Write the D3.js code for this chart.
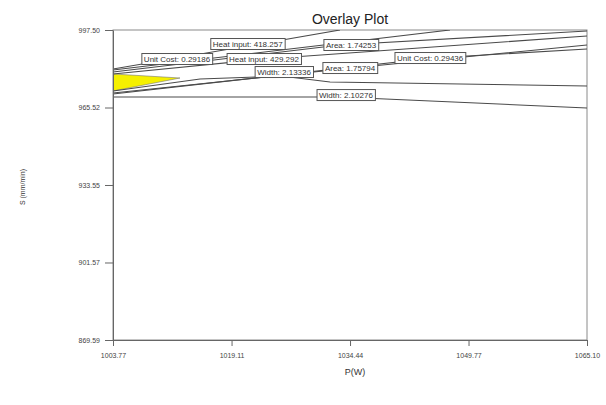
<!DOCTYPE html>
<html>
<head>
<meta charset="utf-8">
<script src="https://cdn.jsdelivr.net/npm/d3@7"></script>
<style>
  body { margin: 0; background: #fff; }
  svg { font-family: "Liberation Sans", Arial, sans-serif; }
</style>
</head>
<body>
<svg id="chart" width="606" height="405"></svg>
<script>
// Axis ticks
const xTicks = [1003.77, 1019.11, 1034.44, 1049.77, 1065.10];
const xTickLabels = ["1003.77", "1019.11", "1034.44", "1049.77", "1065.10"];
const yTicks = [869.59, 901.57, 933.55, 965.52, 997.50];
const yTickLabels = ["869.59", "901.57", "933.55", "965.52", "997.50"];

// Contour lines of each response limit (P, S pairs)
const heat418X = [1003.77, 1023.44, 1033.14];
const heat418Y = [981.41, 992.13, 997.50];
const heat429X = [1003.77, 1023.44, 1065.10];
const heat429Y = [979.35, 985.53, 995.02];
const area174X = [1003.77, 1033.14, 1065.10];
const area174Y = [980.17, 991.31, 997.09];
const area175X = [1003.77, 1034.69, 1065.10];
const area175Y = [971.50, 981.82, 991.31];
const cost29186X = [1003.77, 1047.37];
const cost29186Y = [980.99, 997.50];
const cost29436X = [1003.77, 1045.17, 1065.10];
const cost29436Y = [971.09, 985.95, 989.66];
const width2133X = [1003.77, 1015.03, 1025.51, 1031.85, 1065.10];
const width2133Y = [972.33, 977.28, 978.52, 976.04, 974.39];
const width2102X = [1003.77, 1033.14, 1065.10];
const width2102Y = [969.86, 969.86, 965.32];

// Feasible (sweet spot) region
const regionX = [1003.77, 1012.44, 1003.77];
const regionY = [979.35, 977.69, 972.33];

// Flag labels placed on the contours
const flagText = ["Heat input: 418.257", "Unit Cost: 0.29186", "Heat input: 429.292",
  "Area: 1.74253", "Unit Cost: 0.29436", "Area: 1.75794", "Width: 2.13336", "Width: 2.10276"];
const flagX = [1021.20, 1012.05, 1023.31, 1034.57, 1044.80, 1034.44, 1025.90, 1033.91];
const flagY = [991.72, 985.53, 985.53, 991.31, 985.94, 981.81, 980.16, 970.66];

const W = 606, H = 405;
const margin = { top: 30, right: 19, bottom: 65, left: 113 };
const svg = d3.select("#chart");
const x = d3.scaleLinear().domain([xTicks[0], xTicks[4]]).range([margin.left, W - margin.right]);
const y = d3.scaleLinear().domain([yTicks[0], yTicks[4]]).range([H - margin.bottom, margin.top]);

svg.append("defs").append("clipPath").attr("id", "plotClip")
  .append("rect")
  .attr("x", margin.left).attr("y", margin.top)
  .attr("width", W - margin.left - margin.right)
  .attr("height", H - margin.top - margin.bottom);

// Plot frame
svg.append("rect")
  .attr("x", margin.left).attr("y", margin.top)
  .attr("width", W - margin.left - margin.right)
  .attr("height", H - margin.top - margin.bottom)
  .attr("fill", "#fff").attr("stroke", "#8a8a8a").attr("stroke-width", 1);

const plot = svg.append("g").attr("clip-path", "url(#plotClip)");

const toPts = (xs, ys) => xs.map((v, i) => [x(v), y(ys[i])]);

plot.append("path")
  .attr("d", d3.line()(toPts(regionX, regionY)) + "Z")
  .attr("fill", "#f5f000").attr("stroke", "#777").attr("stroke-width", 0.6);

const contours = [
  [heat418X, heat418Y], [heat429X, heat429Y], [area174X, area174Y], [area175X, area175Y],
  [cost29186X, cost29186Y], [cost29436X, cost29436Y], [width2133X, width2133Y], [width2102X, width2102Y]
];
const line = d3.line();
contours.forEach(([xs, ys]) => {
  plot.append("path")
    .attr("d", line(toPts(xs, ys)))
    .attr("fill", "none").attr("stroke", "#4a4a4a").attr("stroke-width", 1.1);
});

// Flags
flagText.forEach((t, i) => {
  const g = svg.append("g").attr("transform", `translate(${x(flagX[i])},${y(flagY[i])})`);
  const txt = g.append("text")
    .attr("text-anchor", "middle").attr("dy", "0.35em")
    .attr("font-size", 8).attr("fill", "#333").text(t);
  const bb = txt.node().getBBox();
  g.insert("rect", "text")
    .attr("x", bb.x - 2).attr("y", -5.5)
    .attr("width", bb.width + 4).attr("height", 11)
    .attr("fill", "#fff").attr("stroke", "#555").attr("stroke-width", 1);
});

// Axes
const xAxis = d3.axisBottom(x).tickValues(xTicks)
  .tickFormat((d, i) => xTickLabels[i]).tickSize(6).tickSizeOuter(0);
const gx = svg.append("g").attr("transform", `translate(0,${H - margin.bottom})`).call(xAxis);
gx.select(".domain").attr("stroke", "#666");
gx.selectAll(".tick line").attr("stroke", "#666");
gx.selectAll("text").attr("font-size", 7).attr("fill", "#444").attr("dy", "1.3em")
  .style("font-family", "Liberation Sans, Arial, sans-serif");

const yAxis = d3.axisLeft(y).tickValues(yTicks)
  .tickFormat((d, i) => yTickLabels[i]).tickSize(8).tickSizeOuter(0);
const gy = svg.append("g").attr("transform", `translate(${margin.left},0)`).call(yAxis);
gy.select(".domain").attr("stroke", "#666");
gy.selectAll(".tick line").attr("stroke", "#666");
gy.selectAll("text").attr("font-size", 7).attr("fill", "#444").attr("x", -13)
  .style("font-family", "Liberation Sans, Arial, sans-serif");

// Titles
svg.append("text").attr("x", 350).attr("y", 24).attr("text-anchor", "middle")
  .attr("font-size", 14).attr("fill", "#222").text("Overlay Plot");
svg.append("text").attr("x", 355).attr("y", 375).attr("text-anchor", "middle")
  .attr("font-size", 9).attr("fill", "#333").text("P(W)");
svg.append("text").attr("transform", "translate(25,187) rotate(-90)").attr("text-anchor", "middle")
  .attr("font-size", 7).attr("fill", "#333").text("S (mm/min)");
</script>
</body>
</html>
